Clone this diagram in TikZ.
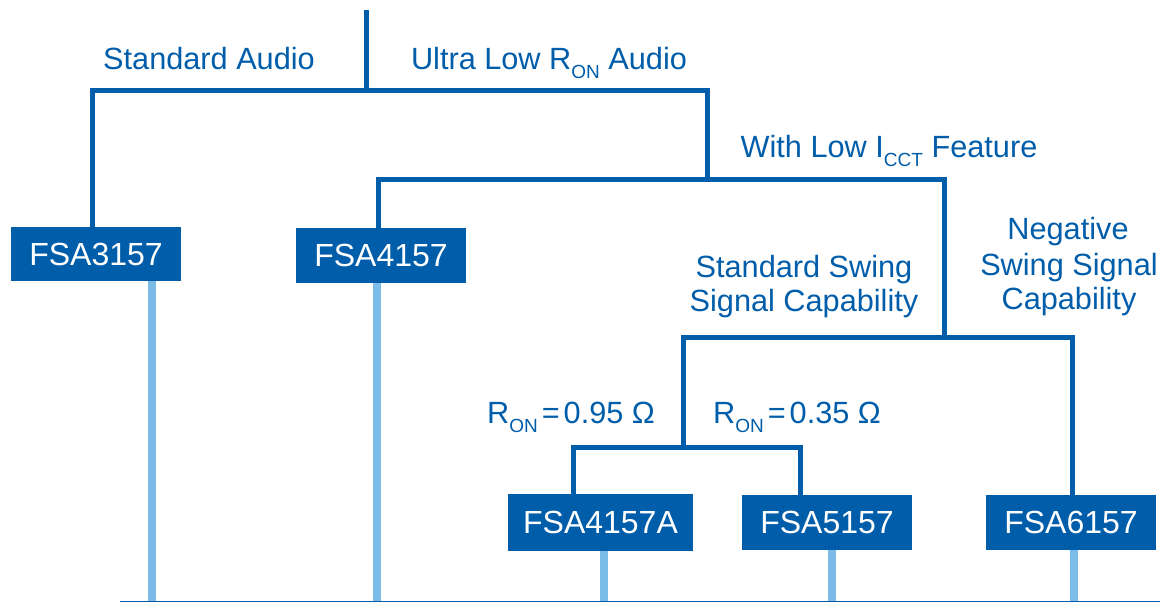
\documentclass[tikz,border=0pt]{standalone}
\usepackage{fontspec}
\setmainfont{Liberation Sans}
\definecolor{dblue}{RGB}{0,93,170}
\definecolor{lblue}{RGB}{123,189,232}
\newcommand{\mysub}[1]{\raisebox{-9pt}{\fontsize{19}{19}\selectfont #1}}
\begin{document}
\begin{tikzpicture}[x=1pt,y=-1pt,
  boxnode/.style={fill=dblue,text=white,inner sep=0pt,minimum width=170pt,minimum height=55pt,font=\fontsize{32}{36}\selectfont},
  lbl/.style={text=dblue,inner sep=0pt,anchor=base,font=\fontsize{30.7}{35}\selectfont},
  tree/.style={draw=dblue,line width=5pt,line join=miter},
  stem/.style={draw=lblue,line width=8pt}]
\useasboundingbox (0,0) rectangle (1164,603);
% boxes
\node[boxnode,minimum height=54pt] (b3157) at (96,254) {FSA3157};
\node[boxnode] (b4157) at (381,255.5) {FSA4157};
\node[boxnode,minimum width=185pt,minimum height=57pt] (b4157A) at (600.5,522.5) {FSA4157A};
\node[boxnode] (b5157) at (827,522.5) {FSA5157};
\node[boxnode] (b6157) at (1071,522.5) {FSA6157};
% junction coordinates
\coordinate (top) at (366,10);
\coordinate (j1) at (366,90);
\coordinate (h1L) at (92,90);
\coordinate (h1R) at (707,90);
\coordinate (h2M) at (707,179);
\coordinate (h2L) at (378,179);
\coordinate (h2R) at (944,179);
\coordinate (h3M) at (944,337);
\coordinate (h3L) at (683,337);
\coordinate (h3R) at (1072,337);
\coordinate (h4M) at (683,447);
\coordinate (h4L) at (573,447);
\coordinate (h4R) at (800,447);
% bottom stem ends
\coordinate (g1) at (152,602);
\coordinate (g2) at (377,602);
\coordinate (g3) at (604,602);
\coordinate (g4) at (832,602);
\coordinate (g5) at (1074,602);
\coordinate (baseL) at (120,601.5);
\coordinate (baseR) at (1160,601.5);
% light stems
\path[stem] (b3157.south -| g1) -- (g1);
\path[stem] (b4157.south -| g2) -- (g2);
\path[stem] (b4157A.south -| g3) -- (g3);
\path[stem] (b5157.south -| g4) -- (g4);
\path[stem] (b6157.south -| g5) -- (g5);
\draw[dblue,line width=1.5pt] (baseL) -- (baseR);
% tree
\path[tree] (top) -- (j1);
\path[tree] (b3157.north -| h1L) -- (h1L) -- (h1R) -- (h2M);
\path[tree] (b4157.north -| h2L) -- (h2L) -- (h2R) -- (h3M);
\path[tree] (b6157.north -| h3R) -- (h3R) -- (h3L) -- (h4M);
\path[tree] (b4157A.north -| h4L) -- (h4L) -- (h4R) -- (b5157.north -| h4R);
% labels
\node[lbl] (l1) at (209,69) {Standard Audio};
\node[lbl] (l2) at (549,69) {Ultra Low R\mysub{ON} Audio};
\node[lbl] (l3) at (889,157) {With Low I\mysub{CCT} Feature};
\node[lbl] (l4a) at (804,277) {Standard Swing};
\node[lbl] (l4b) at (804,311) {Signal Capability};
\node[lbl] (l5a) at (1068,239) {Negative};
\node[lbl] (l5b) at (1069,275) {Swing Signal};
\node[lbl] (l5c) at (1069,309) {Capability};
\node[lbl] (l6) at (571,423) {R\mysub{ON}\kern4pt=\kern4pt0.95 Ω};
\node[lbl] (l7) at (797,423) {R\mysub{ON}\kern4pt=\kern4pt0.35 Ω};
\end{tikzpicture}
\end{document}
